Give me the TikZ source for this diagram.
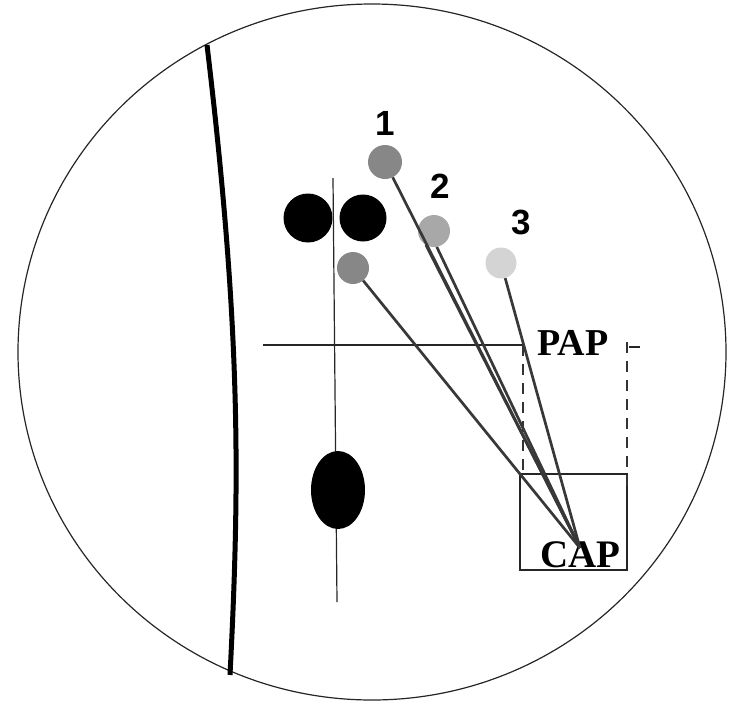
\documentclass[tikz,border=0pt]{standalone}
\usepackage{fontspec}
\setmainfont{Liberation Serif}
\newfontfamily\numfont{Liberation Sans}
\usetikzlibrary{shapes.geometric}
\begin{document}
\begin{tikzpicture}[x=1pt,y=-1pt,
  thinline/.style={line width=1.2pt, draw=black!85},
  conn/.style={line width=2.7pt, draw=black!78},
  dot/.style={circle, inner sep=0pt, minimum size=#1},
  numlab/.style={font=\numfont\bfseries\fontsize{35}{35}\selectfont, inner sep=0pt},
  caplab/.style={font=\bfseries\fontsize{#1}{#1}\selectfont, inner sep=0pt, anchor=base west},
  dashline/.style={line width=1.2pt, draw=black!80, dash pattern=on 11pt off 8pt}]
\useasboundingbox (0,0) rectangle (729,705);
% outer circle
\draw[thinline] (372,352) ellipse [x radius=354pt, y radius=348pt];
% thick curved line
\coordinate (tT) at (207,45);
\coordinate (tB) at (230,675);
\draw[line width=5pt, black] (tT) .. controls (241,330) and (240,480) .. (tB);
% vertical line
\coordinate (vT) at (333,178);
\coordinate (vB) at (337,602);
\draw[thinline] (vT) -- (vB);
% horizontal line
\coordinate (hL) at (263,345);
\coordinate (hR) at (523,345);
\draw[thinline] (hL) -- (hR);
% black shapes
\node[dot=49pt, fill=black] (b1) at (308,218) {};
\node[dot=47pt, fill=black] (b2) at (363,218) {};
\node[ellipse, fill=black, inner sep=0pt, minimum width=54pt, minimum height=78pt] (be) at (338,490) {};
% gray dots
\node[dot=34pt, fill=black!47] (g1) at (385,162) {};
\node[dot=32pt, fill=black!34] (g2) at (434,231) {};
\node[dot=31pt, fill=black!17] (g3) at (501,263) {};
\node[dot=32pt, fill=black!47] (g4) at (353,268) {};
% labels
\node[numlab] (l1) at (385,123) {1};
\node[numlab] (l2) at (440,186) {2};
\node[numlab] (l3) at (521,222) {3};
% box and dashed guides
\node[thinline, draw, inner sep=0pt, minimum width=107pt, minimum height=96pt] (box) at (573.5,522) {};
\coordinate (dL) at (523,474);
\draw[dashline] (hR) -- (dL);
\coordinate (dRT) at (627,342);
\coordinate (dRB) at (627,492);
\draw[dashline] (dRT) -- (dRB);
\coordinate (tk1) at (629,347);
\coordinate (tk2) at (640,347);
\draw[thinline] (tk1) -- (tk2);
% PAP / CAP text
\node[caplab=38] (pap) at (537,355) {PAP};
\node[caplab=39] (cap) at (540,567) {CAP};
% connectors
\coordinate (P) at (580,548);
\draw[conn] (g1) -- (P);
\draw[conn] (g2.240) -- (P);
\draw[conn] (g2.280) -- (P);
\draw[conn] (g3) -- (P);
\draw[conn] (g4) -- (P);
\end{tikzpicture}
\end{document}
